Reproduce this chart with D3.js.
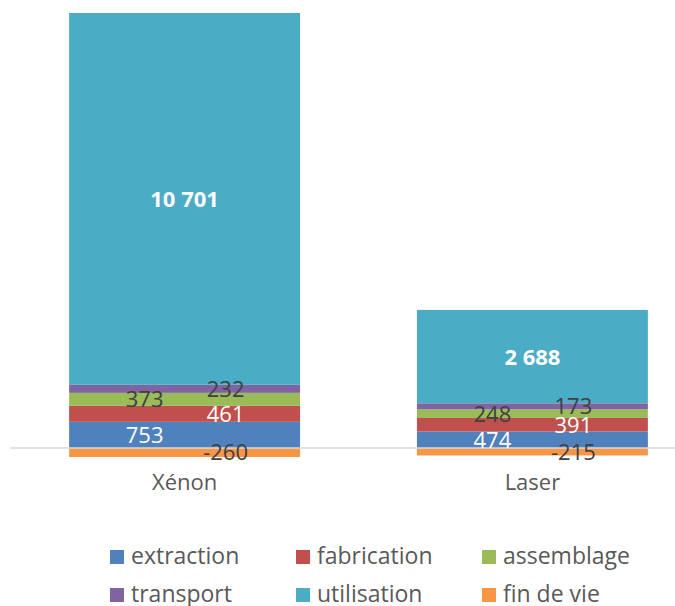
<!DOCTYPE html>
<html>
<head>
<meta charset="utf-8">
<script src="https://cdn.jsdelivr.net/npm/d3@7"></script>
<style>
  body { margin: 0; background: #fff; }
  text { font-family: "Open Sans", "Noto Sans", sans-serif; }
</style>
</head>
<body>
<div id="chart"></div>
<script>
// data
var categories = ["Xénon", "Laser"];
var seriesNames = ["extraction", "fabrication", "assemblage", "transport", "utilisation", "fin de vie"];
var extraction = [753, 474];
var fabrication = [461, 391];
var assemblage = [373, 248];
var transport = [232, 173];
var utilisation = [10701, 2688];
var finDeVie = [-260, -215];

var colors = ["#4f81bd", "#c0504d", "#9bbb59", "#8064a2", "#4bacc6", "#f79646"];
// label look per series: colour, weight, horizontal shift from bar centre
var labelColor = ["#ffffff", "#ffffff", "#404040", "#404040", "#ffffff", "#404040"];
var labelWeight = ["normal", "normal", "normal", "normal", "bold", "normal"];
var labelShift = [-40, 41, -40, 41, 0, 41];

var width = 675, height = 606;

var rows = categories.map(function(c, i) {
    return {
        cat: c,
        "extraction": extraction[i],
        "fabrication": fabrication[i],
        "assemblage": assemblage[i],
        "transport": transport[i],
        "utilisation": utilisation[i],
        "fin de vie": finDeVie[i]
    };
});

var stack = d3.stack().keys(seriesNames).offset(d3.stackOffsetDiverging);
var layers = stack(rows);

var ymax = d3.max(layers, function(l) { return d3.max(l, function(d) { return d[1]; }); });

var y = d3.scaleLinear().domain([0, ymax]).range([448, 13]);

var x = d3.scaleBand()
    .domain(categories)
    .range([10, 707])
    .paddingInner(0.336)
    .paddingOuter(0.17);

var loc = d3.formatLocale({decimal: ",", thousands: " ", grouping: [3], currency: ["", " €"], minus: "-"});
var fmt = loc.format(",d");

var svg = d3.select("#chart").append("svg")
    .attr("width", width)
    .attr("height", height);

var g = svg.append("g");

layers.forEach(function(layer, si) {
    g.selectAll(".s" + si)
        .data(layer)
        .enter()
        .append("rect")
        .attr("x", function(d) { return x(d.data.cat); })
        .attr("width", x.bandwidth())
        .attr("y", function(d) { return y(Math.max(d[0], d[1])); })
        .attr("height", function(d) { return Math.abs(y(d[0]) - y(d[1])); })
        .attr("fill", colors[si]);
});

// zero line
svg.append("line")
    .attr("x1", x.range()[0])
    .attr("x2", x.range()[1])
    .attr("y1", y(0))
    .attr("y2", y(0))
    .attr("stroke", "#d9d9d9")
    .attr("stroke-width", 1.5);

// value labels
layers.forEach(function(layer, si) {
    svg.selectAll(".l" + si)
        .data(layer)
        .enter()
        .append("text")
        .attr("x", function(d) { return x(d.data.cat) + x.bandwidth() / 2 + labelShift[si]; })
        .attr("y", function(d) { return (y(d[0]) + y(d[1])) / 2; })
        .attr("dy", "0.36em")
        .attr("text-anchor", "middle")
        .attr("font-size", "22px")
        .attr("font-weight", labelWeight[si])
        .attr("fill", labelColor[si])
        .text(function(d) { return fmt(d.data[layer.key]); });
});

// category labels
svg.selectAll(".cat")
    .data(categories)
    .enter()
    .append("text")
    .attr("x", function(d) { return x(d) + x.bandwidth() / 2; })
    .attr("y", 490)
    .attr("text-anchor", "middle")
    .attr("font-size", "22px")
    .attr("fill", "#595959")
    .text(function(d) { return d; });

// legend, 3 columns
var legend = svg.selectAll(".leg")
    .data(seriesNames)
    .enter()
    .append("g")
    .attr("transform", function(d, i) {
        return "translate(" + (110 + (i % 3) * 186) + "," + (550 + Math.floor(i / 3) * 38) + ")";
    });

legend.append("rect")
    .attr("width", 14)
    .attr("height", 14)
    .attr("fill", function(d, i) { return colors[i]; });

legend.append("text")
    .attr("x", 21)
    .attr("y", 14)
    .attr("font-size", "23px")
    .attr("fill", "#595959")
    .text(function(d) { return d; });
</script>
</body>
</html>
